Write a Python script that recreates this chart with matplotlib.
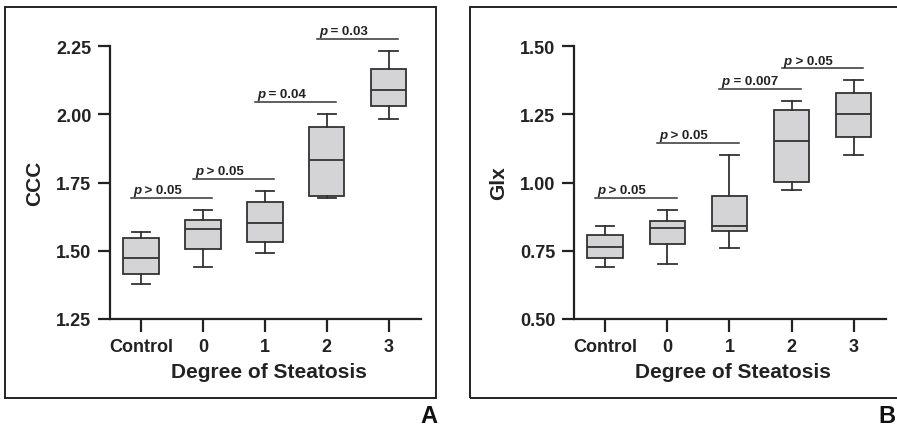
import matplotlib
matplotlib.use("Agg")
import matplotlib.pyplot as plt
from matplotlib.patches import Rectangle

plt.rcParams['font.family'] = ['Liberation Sans', 'DejaVu Sans']
plt.rcParams['font.weight'] = 'bold'

categories = ["Control", "0", "1", "2", "3"]
xlabel = "Degree of Steatosis"

# Panel A: CCC
ccc_whislo = [1.380, 1.442, 1.490, 1.694, 1.982]
ccc_q1     = [1.415, 1.507, 1.532, 1.700, 2.031]
ccc_med    = [1.472, 1.578, 1.602, 1.831, 2.087]
ccc_q3     = [1.548, 1.613, 1.677, 1.952, 2.167]
ccc_whishi = [1.570, 1.651, 1.719, 2.001, 2.232]
ccc_ticks = [1.25, 1.50, 1.75, 2.00, 2.25]
ccc_sig_y = [1.694, 1.763, 2.045, 2.277]
ccc_sig_txt = [" > 0.05", " > 0.05", " = 0.04", " = 0.03"]

# Panel B: Glx
glx_whislo = [0.691, 0.701, 0.760, 0.971, 1.102]
glx_q1     = [0.722, 0.776, 0.821, 1.002, 1.167]
glx_med    = [0.763, 0.835, 0.842, 1.153, 1.252]
glx_q3     = [0.806, 0.859, 0.951, 1.267, 1.328]
glx_whishi = [0.839, 0.900, 1.102, 1.300, 1.374]
glx_ticks = [0.50, 0.75, 1.00, 1.25, 1.50]
glx_sig_y = [0.945, 1.146, 1.343, 1.418]
glx_sig_txt = [" > 0.05", " > 0.05", " = 0.007", " > 0.05"]

W, H = 897, 427
fig = plt.figure(figsize=(W / 100, H / 100), dpi=100)

EDGE = "#333333"
FILL = "#d4d4d6"


def panel(rect, ylab, whislo, q1, med, q3, whishi, ticks, sig_y, sig_txt):
    ax = fig.add_axes(rect)
    stats = []
    for i in range(len(categories)):
        stats.append(dict(whislo=whislo[i], q1=q1[i], med=med[i], q3=q3[i],
                          whishi=whishi[i], fliers=[], label=categories[i]))
    pos = list(range(len(categories)))
    ax.bxp(stats, positions=pos, widths=0.57, capwidths=0.30, patch_artist=True,
           showfliers=False,
           boxprops=dict(facecolor=FILL, edgecolor=EDGE, linewidth=1.3),
           medianprops=dict(color=EDGE, linewidth=1.3),
           whiskerprops=dict(color=EDGE, linewidth=1.3),
           capprops=dict(color=EDGE, linewidth=1.3))
    ax.set_xlim(-0.5, 4.52)
    ax.set_ylim(ticks[0], ticks[-1])
    ax.set_yticks(ticks)
    ax.set_yticklabels([f"{t:.2f}" for t in ticks])
    ax.set_xticks(pos)
    ax.set_xticklabels(categories)
    for s in ("top", "right"):
        ax.spines[s].set_visible(False)
    for s in ("left", "bottom"):
        ax.spines[s].set_linewidth(1.6)
        ax.spines[s].set_color("#222222")
    ax.tick_params(axis="both", direction="out", length=9, width=1.6,
                   color="#222222", labelsize=13, pad=4.5, labelcolor="#222222")
    for lab in ax.get_xticklabels() + ax.get_yticklabels():
        lab.set_fontweight("bold")
    ax.text(-0.241, 0.5, ylab, transform=ax.transAxes, rotation=90,
            ha="center", va="center", fontsize=15, fontweight="bold", color="#222222")
    ax.text(0.51, -0.194, xlabel, transform=ax.transAxes, ha="center",
            va="center", fontsize=15, fontweight="bold", color="#222222")
    for i, (yv, txt) in enumerate(zip(sig_y, sig_txt)):
        x0, x1 = i - 0.16, i + 1.15
        ax.plot([x0, x1], [yv, yv], color=EDGE, lw=1.1, clip_on=False)
        tp = ax.annotate("p", xy=(x0, yv), xytext=(1.5, 1.2), textcoords="offset points",
                         ha="left", va="bottom", fontsize=9.5, fontweight="bold",
                         fontstyle="italic", color="#222222", annotation_clip=False)
        ax.annotate(txt, xy=(1, 0), xycoords=tp, ha="left", va="bottom",
                    fontsize=9.5, fontweight="bold", color="#222222")
    return ax


axA = panel([110 / W, 1 - 320 / H, 311 / W, 273 / H], "CCC",
            ccc_whislo, ccc_q1, ccc_med, ccc_q3, ccc_whishi, ccc_ticks,
            ccc_sig_y, ccc_sig_txt)
axB = panel([574 / W, 1 - 320 / H, 312 / W, 273 / H], "Glx",
            glx_whislo, glx_q1, glx_med, glx_q3, glx_whishi, glx_ticks,
            glx_sig_y, glx_sig_txt)

# panel frames
fig.patches.append(Rectangle((5 / W, 1 - 399 / H), 431 / W, 391 / H,
                             transform=fig.transFigure, fill=False,
                             edgecolor="#222222", linewidth=1.4))
fig.patches.append(Rectangle((470 / W, 1 - 399 / H), 440 / W, 391 / H,
                             transform=fig.transFigure, fill=False,
                             edgecolor="#222222", linewidth=1.4, clip_on=False))

fig.text(429 / W, 1 - 417 / H, "A", ha="center", va="center", fontsize=17,
         fontweight="bold", color="#111111")
fig.text(895 / W, 1 - 417 / H, "B", ha="right", va="center", fontsize=17,
         fontweight="bold", color="#111111")

fig.savefig("out.png", dpi=100)
